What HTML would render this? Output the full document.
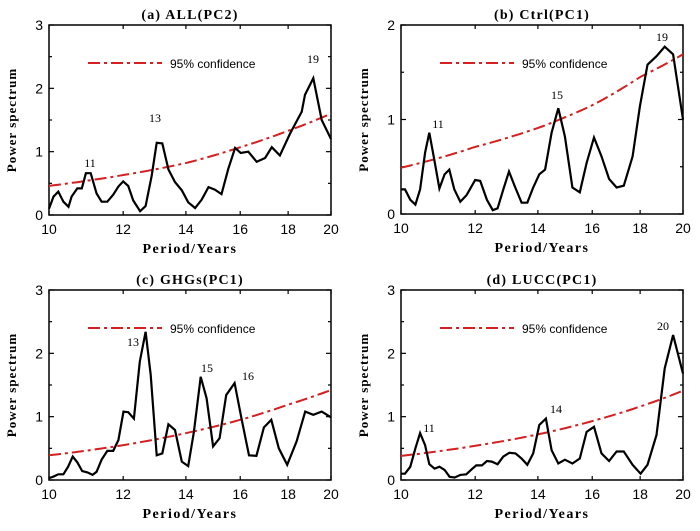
<!DOCTYPE html>
<html><head><meta charset="utf-8">
<style>
body{margin:0;background:#fff;}
svg{display:block;}
.ttl{font-family:"Liberation Serif",serif;font-weight:bold;font-size:14px;letter-spacing:1.2px;}
.tick{font-family:"Liberation Sans",sans-serif;font-size:14px;}
.lab{font-family:"Liberation Serif",serif;font-weight:bold;font-size:14px;letter-spacing:1.5px;}
.ylab{font-family:"Liberation Serif",serif;font-weight:bold;font-size:13px;letter-spacing:1px;}
.ann{font-family:"Liberation Serif",serif;font-size:12px;}
.leg{font-family:"Liberation Sans",sans-serif;font-size:12px;}
</style></head>
<body>
<svg id="chart" width="700" height="531" viewBox="0 0 700 531" xmlns="http://www.w3.org/2000/svg"></svg>
<script>
const xTicks=[10,12,14,16,18,20];
const confPeriods=[10,12,14,16,18,20];
const aPeriods=[10,10.11,10.23,10.36,10.49,10.57,10.72,10.84,10.95,11.08,11.24,11.38,11.54,11.71,11.86,12.0,12.15,12.30,12.51,12.68,12.87,13.03,13.21,13.41,13.63,13.86,14.08,14.32,14.55,14.80,15.04,15.28,15.54,15.80,16.02,16.32,16.66,17.01,17.29,17.64,18.09,18.61,18.76,19.15,19.55,20];
const aValues=[0.1,0.29,0.37,0.21,0.13,0.29,0.42,0.42,0.66,0.66,0.34,0.21,0.21,0.32,0.45,0.53,0.46,0.23,0.06,0.14,0.62,1.14,1.13,0.72,0.52,0.39,0.20,0.11,0.24,0.44,0.40,0.33,0.73,1.06,0.98,1.00,0.84,0.90,1.07,0.94,1.29,1.63,1.9,2.16,1.5,1.2];
const aConf=[0.46,0.63,0.82,1.07,1.33,1.6];
const bPeriods=[10,10.10,10.23,10.36,10.48,10.61,10.72,10.85,10.99,11.13,11.26,11.40,11.57,11.75,12.0,12.15,12.35,12.53,12.68,12.86,13.04,13.23,13.45,13.64,13.84,14.05,14.25,14.48,14.72,14.96,15.24,15.52,15.78,16.07,16.37,16.68,16.99,17.29,17.67,17.99,18.33,18.74,19.12,19.52,20];
const bValues=[0.26,0.26,0.15,0.1,0.26,0.65,0.86,0.58,0.27,0.42,0.47,0.26,0.13,0.2,0.36,0.35,0.15,0.04,0.06,0.26,0.45,0.29,0.12,0.12,0.28,0.42,0.47,0.86,1.12,0.82,0.28,0.23,0.54,0.81,0.61,0.37,0.28,0.3,0.61,1.14,1.58,1.67,1.77,1.69,1.0];
const bConf=[0.49,0.71,0.91,1.15,1.45,1.69];
const cPeriods=[10,10.10,10.23,10.36,10.48,10.60,10.72,10.85,10.99,11.13,11.24,11.38,11.54,11.71,11.86,12.01,12.15,12.32,12.50,12.68,12.84,13.03,13.21,13.41,13.63,13.86,14.08,14.28,14.52,14.73,14.97,15.21,15.46,15.78,16.05,16.35,16.65,16.96,17.27,17.59,17.96,18.38,18.77,19.15,19.55,20];
const cValues=[0.03,0.05,0.09,0.09,0.21,0.37,0.28,0.14,0.12,0.08,0.13,0.32,0.46,0.46,0.63,1.08,1.07,0.97,1.87,2.34,1.66,0.39,0.42,0.88,0.79,0.29,0.22,0.76,1.63,1.29,0.53,0.66,1.34,1.53,0.97,0.39,0.38,0.83,0.95,0.5,0.24,0.61,1.08,1.03,1.08,0.99];
const cConf=[0.39,0.55,0.74,0.95,1.19,1.42];
const dPeriods=[10,10.10,10.23,10.36,10.48,10.61,10.72,10.86,10.99,11.13,11.27,11.41,11.57,11.74,11.90,12.03,12.20,12.35,12.50,12.68,12.86,13.05,13.25,13.45,13.64,13.84,14.05,14.28,14.48,14.72,14.96,15.24,15.52,15.78,16.07,16.37,16.68,16.99,17.29,17.67,18.02,18.33,18.74,19.12,19.52,20];
const dValues=[0.1,0.1,0.21,0.5,0.74,0.55,0.25,0.18,0.21,0.16,0.05,0.04,0.08,0.09,0.17,0.23,0.23,0.3,0.29,0.25,0.37,0.43,0.42,0.34,0.24,0.42,0.87,0.97,0.47,0.26,0.32,0.26,0.34,0.76,0.84,0.42,0.3,0.45,0.45,0.24,0.1,0.24,0.71,1.76,2.29,1.68];
const dConf=[0.38,0.54,0.72,0.93,1.16,1.41];

const NS="http://www.w3.org/2000/svg";
const svg=document.getElementById('chart');
function mk(tag,attrs,parent,txt){const e=document.createElementNS(NS,tag);for(const k in attrs)e.setAttribute(k,attrs[k]);if(txt!==undefined)e.textContent=txt;(parent||svg).appendChild(e);return e;}

const panels=[
 {id:'a',title:'(a) ALL(PC2)',x0:49,x1:331,y0:215,y1:25,ymax:3,per:aPeriods,val:aValues,conf:aConf,
  anns:[['11',90,167],['13',155,122],['19',313,63]]},
 {id:'b',title:'(b) Ctrl(PC1)',x0:401,x1:683,y0:214,y1:25,ymax:2,per:bPeriods,val:bValues,conf:bConf,
  anns:[['11',438,128],['15',557,99],['19',662,41]]},
 {id:'c',title:'(c) GHGs(PC1)',x0:49,x1:331,y0:480,y1:290,ymax:3,per:cPeriods,val:cValues,conf:cConf,
  anns:[['13',133,346],['15',207,372],['16',248,380]]},
 {id:'d',title:'(d) LUCC(PC1)',x0:401,x1:683,y0:480,y1:290,ymax:3,per:dPeriods,val:dValues,conf:dConf,
  anns:[['11',429,432],['14',556,413],['20',663,330]]}
];

panels.forEach(p=>{
  const g=mk('g',{});
  
  
  const X=v=>p.x0+(p.x1-p.x0)*Math.log2(v/10);
  const Y=v=>p.y0-(p.y0-p.y1)*v/p.ymax;
  const cx=(p.x0+p.x1)/2;
  const t=mk('text',{x:cx,y:p.y1-6,'text-anchor':'middle',class:'ttl'},g,p.title);
  
  
  const fr=mk('rect',{x:p.x0,y:p.y1,width:p.x1-p.x0,height:p.y0-p.y1,fill:'none',stroke:'#000','stroke-width':1.5},g);
  
  
  xTicks.forEach(v=>{
    const x=X(v);
    mk('line',{x1:x,x2:x,y1:p.y0,y2:p.y0-4,stroke:'#000','stroke-width':1.2},g);
    mk('line',{x1:x,x2:x,y1:p.y1,y2:p.y1+4,stroke:'#000','stroke-width':1.2},g);
    const tl=mk('text',{x:x,y:p.y0+19,'text-anchor':'middle',class:'tick'},g,String(v));
    
    
  });
  for(let v=0;v<=p.ymax;v+=0.5){
    const y=Y(v);const len=(v%1===0)?5:3;
    mk('line',{x1:p.x0,x2:p.x0+len,y1:y,y2:y,stroke:'#000','stroke-width':1.2},g);
    mk('line',{x1:p.x1,x2:p.x1-len,y1:y,y2:y,stroke:'#000','stroke-width':1.2},g);
    if(v%1===0){
      const yl=mk('text',{x:p.x0-6,y:y+5,'text-anchor':'end',class:'tick'},g,String(v));
      
      
    }
  }
  const xl=mk('text',{x:cx,y:p.y0+38,'text-anchor':'middle',class:'lab'},g,'Period/Years');
  
  
  const ym=(p.y0+p.y1)/2, yx=p.x0-33;
  const yt=mk('text',{x:yx,y:ym,'text-anchor':'middle',class:'ylab',transform:`rotate(-90 ${yx} ${ym})`},g,'Power spectrum');
  
  
  let cd='';
  for(let i=0;i<=60;i++){
    const per=10*Math.pow(2,i/60);
    let k=0;while(k<confPeriods.length-2&&per>confPeriods[k+1])k++;
    const f=(Math.log(per)-Math.log(confPeriods[k]))/(Math.log(confPeriods[k+1])-Math.log(confPeriods[k]));
    const v=Math.exp(Math.log(p.conf[k])*(1-f)+Math.log(p.conf[k+1])*f);
    cd+=(i?'L':'M')+X(per).toFixed(1)+','+Y(v).toFixed(1);
  }
  const cl=mk('path',{d:cd,fill:'none',stroke:'#d42020','stroke-width':2,'stroke-dasharray':'12,4,3,4'},g);
  
  
  const sd=p.per.map((v,i)=>(i?'L':'M')+X(v).toFixed(1)+','+Y(p.val[i]).toFixed(1)).join('');
  const sl=mk('path',{d:sd,fill:'none',stroke:'#000','stroke-width':2.2,'stroke-linejoin':'miter'},g);
  
  
  const ly=p.y1+38, lx=p.x0+39;
  const ll=mk('line',{x1:lx,x2:lx+74,y1:ly,y2:ly,stroke:'#d42020','stroke-width':2,'stroke-dasharray':'12,4,3,4'},g);
  
  
  const lt=mk('text',{x:lx+82,y:ly+5,class:'leg'},g,'95% confidence');
  
  
  p.anns.forEach(a=>{
    const at=mk('text',{x:a[1],y:a[2],'text-anchor':'middle',class:'ann'},g,a[0]);
    
    
  });
});
</script>
</body></html>
